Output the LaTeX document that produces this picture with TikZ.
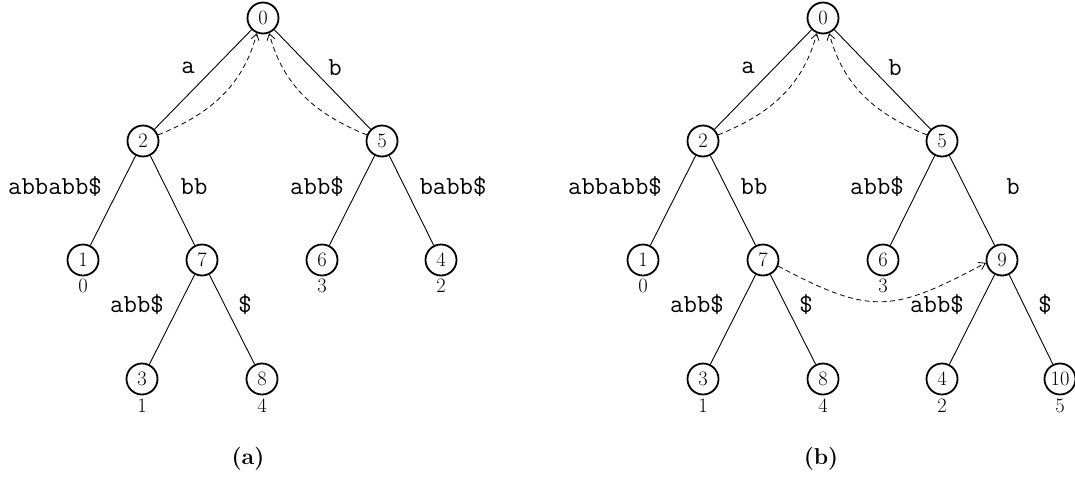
\documentclass[tikz,border=0pt]{standalone}
\usepackage{fontspec}
\usetikzlibrary{arrows.meta}
\begin{document}
\begin{tikzpicture}[x=1pt,y=-1pt,
  nd/.style={circle,draw,line width=1.8pt,minimum size=31pt,inner sep=0pt,font=\fontsize{20.5}{24}\selectfont},
  num/.style={font=\fontsize{20.5}{24}\selectfont,inner sep=0pt},
  lab/.style={font=\fontsize{26}{30}\selectfont\ttfamily,inner sep=0pt},
  treeedge/.style={line width=0.9pt},
  suffixlink/.style={dashed,line width=0.8pt,dash pattern=on 5pt off 3.5pt,-{Straight Barb[length=6pt,width=8pt]}},
  captxt/.style={font=\fontsize{23}{27}\selectfont\bfseries,inner sep=0pt}]
\useasboundingbox (0,0) rectangle (1075,477);
% ---------- (a) ----------
\node[nd] (a0) at (263,18) {0};
\node[nd] (a2) at (143,141) {2};
\node[nd] (a5) at (382,141) {5};
\node[nd] (a1) at (83,260) {1};
\node[nd] (a7) at (202,260) {7};
\node[nd] (a6) at (322,260) {6};
\node[nd] (a4) at (441,260) {4};
\node[nd] (a3) at (142,379) {3};
\node[nd] (a8) at (262,379) {8};
\draw[treeedge] (a0) -- (a2);
\draw[treeedge] (a0) -- (a5);
\draw[treeedge] (a2) -- (a1);
\draw[treeedge] (a2) -- (a7);
\draw[treeedge] (a5) -- (a6);
\draw[treeedge] (a5) -- (a4);
\draw[treeedge] (a7) -- (a3);
\draw[treeedge] (a7) -- (a8);
\draw[suffixlink] (a2.22) to[out=22,in=-105] (a0.-112);
\draw[suffixlink] (a5.158) to[out=158,in=-75] (a0.-68);
\node[lab] (la1) at (188,68) {a};
\node[lab] (la2) at (335,68) {b};
\node[lab] (la3) at (55,187) {abbabb\$};
\node[lab] (la4) at (194,187) {bb};
\node[lab] (la5) at (317,187) {abb\$};
\node[lab] (la6) at (453,187) {babb\$};
\node[lab] (la7) at (137,305) {abb\$};
\node[lab] (la8) at (245,305) {\$};
\node[num] (na1) at (83,286) {0};
\node[num] (na6) at (322,286) {3};
\node[num] (na4) at (441,286) {2};
\node[num] (na3) at (142,406) {1};
\node[num] (na8) at (262,406) {4};
\node[captxt] (capa) at (248,459) {(a)};
% ---------- (b) ----------
\node[nd] (b0) at (823,18) {0};
\node[nd] (b2) at (703,141) {2};
\node[nd] (b5) at (942,141) {5};
\node[nd] (b1) at (643,260) {1};
\node[nd] (b7) at (763,260) {7};
\node[nd] (b6) at (883,260) {6};
\node[nd] (b9) at (1002,260) {9};
\node[nd] (b3) at (703,379) {3};
\node[nd] (b8) at (823,379) {8};
\node[nd] (b4) at (942,379) {4};
\node[nd] (b10) at (1060,379) {10};
\draw[treeedge] (b0) -- (b2);
\draw[treeedge] (b0) -- (b5);
\draw[treeedge] (b2) -- (b1);
\draw[treeedge] (b2) -- (b7);
\draw[treeedge] (b5) -- (b6);
\draw[treeedge] (b5) -- (b9);
\draw[treeedge] (b7) -- (b3);
\draw[treeedge] (b7) -- (b8);
\draw[treeedge] (b9) -- (b4);
\draw[treeedge] (b9) -- (b10);
\draw[suffixlink] (b2.22) to[out=22,in=-105] (b0.-112);
\draw[suffixlink] (b5.158) to[out=158,in=-75] (b0.-68);
\draw[suffixlink] (b7.-22) to[out=-28,in=208,looseness=1.3] (b9.190);
\node[lab] (lb1) at (748,68) {a};
\node[lab] (lb2) at (895,68) {b};
\node[lab] (lb3) at (615,187) {abbabb\$};
\node[lab] (lb4) at (754,187) {bb};
\node[lab] (lb5) at (877,187) {abb\$};
\node[lab] (lb6) at (1013,187) {b};
\node[lab] (lb7) at (697,305) {abb\$};
\node[lab] (lb8) at (806,305) {\$};
\node[lab] (lb9) at (937,305) {abb\$};
\node[lab] (lb10) at (1045,305) {\$};
\node[num] (nb1) at (643,286) {0};
\node[num] (nb6) at (883,286) {3};
\node[num] (nb3) at (703,406) {1};
\node[num] (nb8) at (823,406) {4};
\node[num] (nb4) at (942,406) {2};
\node[num] (nb10) at (1060,406) {5};
\node[captxt] (capb) at (821,459) {(b)};
\end{tikzpicture}
\end{document}
